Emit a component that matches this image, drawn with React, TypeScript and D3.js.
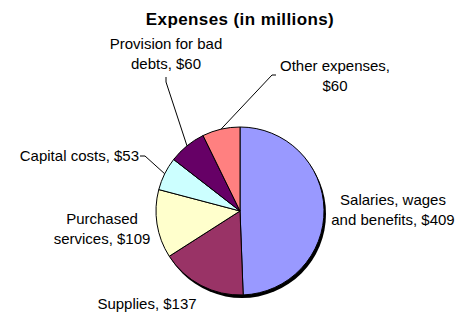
import React, { useEffect, useRef } from "react";
import * as d3 from "d3";

const title = "Expenses (in millions)";
const categories = [
  "Salaries, wages and benefits",
  "Supplies",
  "Purchased services",
  "Capital costs",
  "Provision for bad debts",
  "Other expenses",
];
const values = [409, 137, 109, 53, 60, 60];
const sliceColors = ["#9999FF", "#993366", "#FFFFCC", "#CCFFFF", "#660066", "#FF8080"];
const labelLines = [
  ["Salaries, wages", "and benefits, $409"],
  ["Supplies, $137"],
  ["Purchased", "services, $109"],
  ["Capital costs, $53"],
  ["Provision for bad", "debts, $60"],
  ["Other expenses,", "$60"],
];

// label placement (text anchor point + leader bends), layout only
const labelLayout = [
  { x: 393, y: 205, anchor: "middle", leader: null },
  { x: 147, y: 309, anchor: "middle", leader: null },
  { x: 102, y: 224, anchor: "middle", leader: null },
  { x: 139, y: 161, anchor: "end", leader: [[145, 156], [140, 156]] },
  { x: 166, y: 49, anchor: "middle", leader: [[166, 82], [166, 77]] },
  { x: 335, y: 71, anchor: "middle", leader: [[272, 75], [276, 75]] },
];

export default function App() {
  const chartRef = useRef(null);
  const width = 458;
  const height = 314;

  useEffect(() => {
    const svg = d3.select(chartRef.current);
    const cx = 240;
    const cy = 211;
    const r = 84;
    const font = "'Liberation Sans', Arial, sans-serif";

    const pie = d3
      .pie()
      .sort(null)
      .value(d => d);
    const arcs = pie(values);
    const arc = d3.arc().innerRadius(0).outerRadius(r);
    const edge = d3.arc().innerRadius(r).outerRadius(r);

    svg
      .append("text")
      .attr("x", 240)
      .attr("y", 25)
      .attr("text-anchor", "middle")
      .attr("font-family", font)
      .attr("font-weight", "bold")
      .attr("font-size", 17)
      .attr("letter-spacing", 0.4)
      .attr("fill", "#000")
      .text(title);

    const g = svg.append("g").attr("transform", `translate(${cx},${cy})`);

    // shadow
    g.append("circle")
      .attr("cx", 2)
      .attr("cy", 3)
      .attr("r", r)
      .attr("fill", "#000");

    g.selectAll("path.slice")
      .data(arcs)
      .join("path")
      .attr("class", "slice")
      .attr("d", arc)
      .attr("fill", (d, i) => sliceColors[i])
      .attr("stroke", "#000")
      .attr("stroke-width", 1)
      .attr("stroke-linejoin", "round");

    // leader lines
    arcs.forEach((d, i) => {
      const lay = labelLayout[i];
      if (!lay.leader) return;
      const [ex, ey] = edge.centroid(d);
      const pts = [[cx + ex, cy + ey], ...lay.leader];
      svg
        .append("path")
        .attr("d", d3.line()(pts))
        .attr("fill", "none")
        .attr("stroke", "#000")
        .attr("stroke-width", 1);
    });

    // labels
    labelLines.forEach((lines, i) => {
      const lay = labelLayout[i];
      const t = svg
        .append("text")
        .attr("font-family", font)
        .attr("font-size", 15)
        .attr("fill", "#000")
        .attr("text-anchor", lay.anchor)
        .attr("data-category", categories[i]);
      lines.forEach((line, j) => {
        t.append("tspan")
          .attr("x", lay.x)
          .attr("y", lay.y + j * 19.5)
          .text(line);
      });
    });

    return () => {
      svg.html("");
    };
  }, [chartRef]);

  return (
    <svg
      ref={chartRef}
      width={width}
      height={height}
      style={{ position: "absolute", left: 0, top: 0, background: "#fff" }}
    />
  );
}
